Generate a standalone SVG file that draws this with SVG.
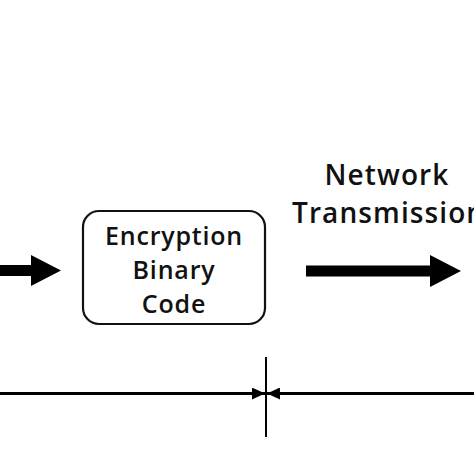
<svg xmlns="http://www.w3.org/2000/svg" width="474" height="474" viewBox="0 0 474 474">
<style>
  text { font-family: "Open Sans", "Noto Sans", "DejaVu Sans", sans-serif; font-weight: 600; fill: #111; }
  .box { fill: #fff; stroke: #111; stroke-width: 2.2; }
  .fat { fill: #000; }
  .thin { stroke: #000; fill: none; }
</style>
<defs>
  <marker id="tip" markerWidth="13" markerHeight="12" refX="13" refY="6" orient="auto" markerUnits="userSpaceOnUse">
    <path d="M0,0 L13,6 L0,12 Z" fill="#000"/>
  </marker>
</defs>
<rect width="474" height="474" fill="#fff"/>
<g id="node-encryption">
  <rect class="box" x="83" y="211" width="182" height="113" rx="16" ry="16"/>
  <text x="174" y="245" font-size="25" letter-spacing="0.8" text-anchor="middle">Encryption</text>
  <text x="174" y="279" font-size="25" letter-spacing="0.8" text-anchor="middle">Binary</text>
  <text x="174" y="313" font-size="25" letter-spacing="0.8" text-anchor="middle">Code</text>
</g>
<g id="label-network">
  <text x="387" y="185" font-size="28" letter-spacing="1.1" text-anchor="middle">Network</text>
  <text x="292" y="223" font-size="28" letter-spacing="1.1">Transmission</text>
</g>
<g id="connectors">
  <path class="fat" d="M0,265 L31,265 L31,255 L61,270.5 L31,286 L31,276 L0,276 Z"/>
  <path class="fat" d="M306,265.5 L430,265.5 L430,255 L461,271 L430,287 L430,276.5 L306,276.5 Z"/>
  <line class="thin" x1="0" y1="393.5" x2="265" y2="393.5" stroke-width="3.2" marker-end="url(#tip)"/>
  <line class="thin" x1="474" y1="393.5" x2="267" y2="393.5" stroke-width="3.2" marker-end="url(#tip)"/>
  <line class="thin" x1="266" y1="357" x2="266" y2="437" stroke-width="2"/>
</g>
</svg>
